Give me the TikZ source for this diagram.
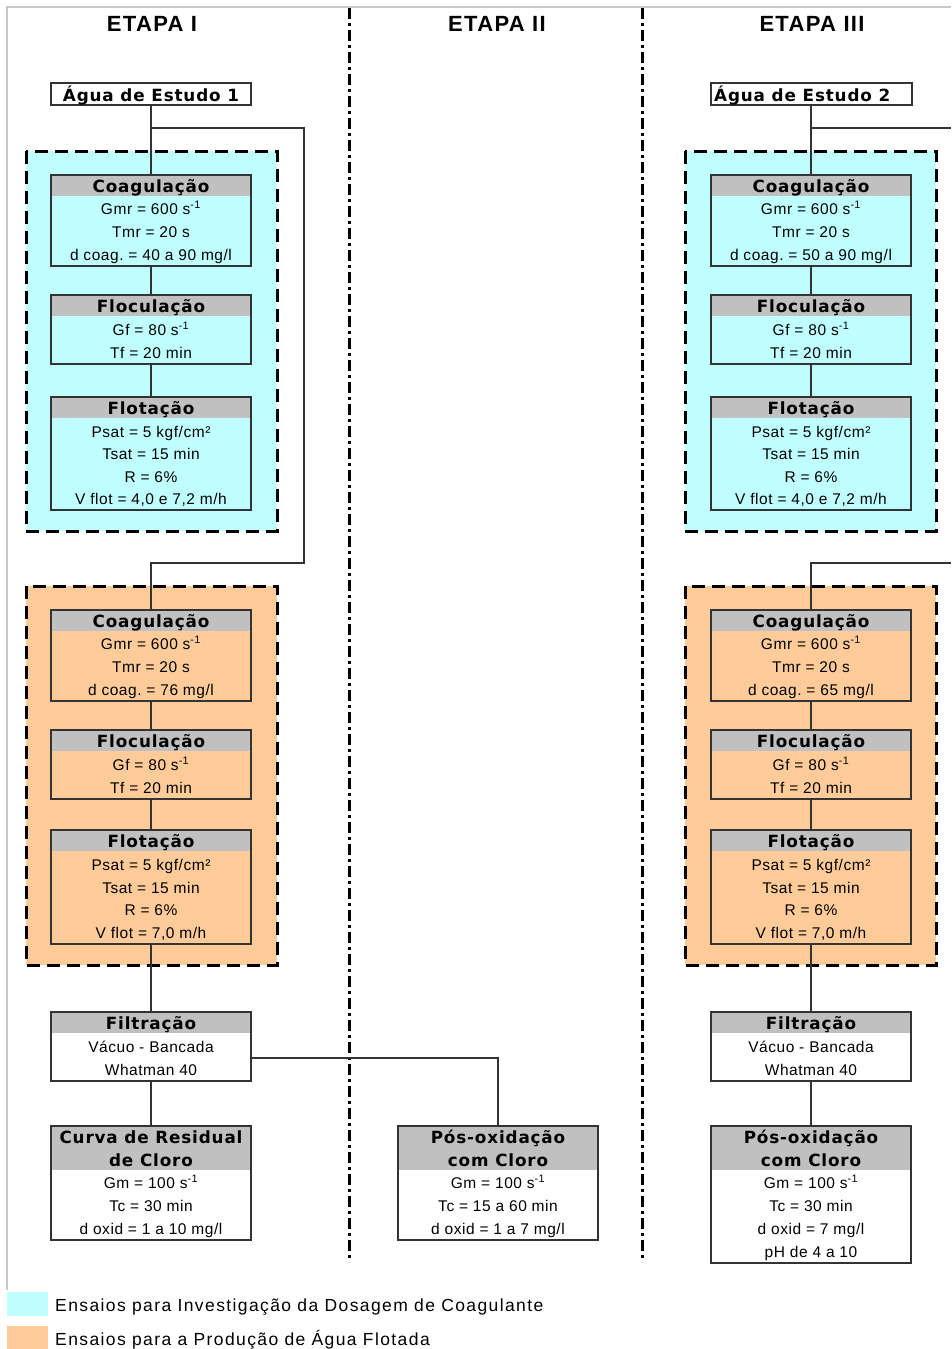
\documentclass[tikz,border=0pt]{standalone}
\usepackage{fontspec}
\setmainfont{Liberation Sans}
\newfontfamily\hdrfont[LetterSpace=5]{DejaVu Sans}
\newfontfamily\bodyfont[LetterSpace=3.5]{Liberation Sans}
\newfontfamily\legfont[LetterSpace=8]{Liberation Sans}
\newfontfamily\etfont[LetterSpace=6]{Liberation Sans}
\definecolor{cyanc}{HTML}{C0FFFF}
\definecolor{orangec}{HTML}{FFCC99}
\definecolor{hdrgray}{HTML}{C0C0C0}
\definecolor{linec}{HTML}{333333}
\definecolor{framec}{HTML}{C8C8C8}
\tikzset{
  pbox/.style={draw=linec, line width=1.5pt, rectangle, minimum width=200pt, inner sep=0pt},
  conn/.style={draw=linec, line width=1.5pt},
  group/.style={draw=black, line width=3pt, dash pattern=on 13pt off 7pt},
  sep/.style={draw=black, line width=3pt, dash pattern=on 11pt off 4pt on 3pt off 4pt},
  htxt/.style={font=\hdrfont\bfseries\fontsize{16.8}{22}\selectfont, inner sep=0pt, anchor=base, yshift=-7.5pt},
  btxt/.style={font=\bodyfont\fontsize{15.5}{19}\selectfont, inner sep=0pt, anchor=base, yshift=-6pt},
  ltxt/.style={font=\legfont\fontsize{17.5}{21}\selectfont, inner sep=0pt, anchor=base west, yshift=-6pt},
  ettxt/.style={font=\etfont\bfseries\fontsize{22}{26}\selectfont, inner sep=0pt, anchor=base},
}
% #1 name, #2 x center, #3 top y, #4 height, #5 header height, #6 fill
\newcommand\procbox[6]{%
  \fill[#6] (#2-100,-#3) rectangle (#2+100,-#3-#4);
  \fill[hdrgray] (#2-100,-#3) rectangle (#2+100,-#3-#5);
  \node[pbox, minimum height=#4pt, anchor=north] (#1) at (#2,-#3) {};
}
\begin{document}
\frenchspacing
\begin{tikzpicture}[x=1pt,y=1pt]
\useasboundingbox (0,0) rectangle (951,-1349);
\fill[white] (0,0) rectangle (951,-1349);
% frame
\draw[framec, line width=1.2pt] (7,-1290) -- (7,-7) -- (951,-7);
% separators
\draw[sep] (349,-8) -- (349,-1262);
\draw[sep] (642,-8) -- (642,-1262);
% titles
\node[ettxt] (et1) at (152,-31.5) {ETAPA I};
\node[ettxt] (et2) at (497,-31.5) {ETAPA II};
\node[ettxt] (et3) at (812,-31.5) {ETAPA III};
% groups
\path[group, fill=cyanc] (26,-151) rectangle (277,-531);
\path[group, fill=orangec] (26,-586) rectangle (277,-965);
\path[group, fill=cyanc] (685,-151) rectangle (936,-531);
\path[group, fill=orangec] (685,-586) rectangle (936,-965);

% ---------------- Column I ----------------
\node[pbox, minimum height=22pt, fill=white] (a1) at (151,-94) {};
\node[htxt] (a1t) at (151,-94) {Água de Estudo 1};

\coordinate (b1) at (151,-128);
\coordinate (b1r) at (304,-128);
\coordinate (b1d) at (304,-563);
\coordinate (b1l) at (151,-563);

% connectors first (boxes drawn over)
\draw[conn] (151,-105) -- (151,-174);
\draw[conn] (b1) -- (b1r) -- (b1d) -- (b1l) -- (151,-609);
\draw[conn] (151,-265) -- (151,-294);
\draw[conn] (151,-363) -- (151,-396);
\draw[conn] (151,-700) -- (151,-729);
\draw[conn] (151,-798) -- (151,-829);
\draw[conn] (151,-943) -- (151,-1011);
\draw[conn] (151,-1080) -- (151,-1125);

\procbox{c1}{151}{174}{91}{22}{cyanc}
\node[htxt] (c1h) at (151,-185) {Coagulação};
\node[btxt] (c1a) at (151,-208) {Gmr = 600 s\textsuperscript{-1}};
\node[btxt] (c1b) at (151,-231) {Tmr = 20 s};
\node[btxt] (c1c) at (151,-254) {d coag. = 40 a 90 mg/l};

\procbox{f1}{151}{294}{69}{22}{cyanc}
\node[htxt] (f1h) at (151,-305) {Floculação};
\node[btxt] (f1a) at (151,-329) {Gf = 80 s\textsuperscript{-1}};
\node[btxt] (f1b) at (151,-352) {Tf = 20 min};

\procbox{t1}{151}{396}{113}{22}{cyanc}
\node[htxt] (t1h) at (151,-407) {Flotação};
\node[btxt] (t1a) at (151,-431) {Psat = 5 kgf/cm²};
\node[btxt] (t1b) at (151,-453) {Tsat = 15 min};
\node[btxt] (t1c) at (151,-476) {R = 6\%};
\node[btxt] (t1d) at (151,-498) {V flot = 4,0 e 7,2 m/h};

\procbox{oc1}{151}{609}{91}{22}{orangec}
\node[htxt] (oc1h) at (151,-620) {Coagulação};
\node[btxt] (oc1a) at (151,-643) {Gmr = 600 s\textsuperscript{-1}};
\node[btxt] (oc1b) at (151,-666) {Tmr = 20 s};
\node[btxt] (oc1c) at (151,-689) {d coag. = 76 mg/l};

\procbox{of1}{151}{729}{69}{22}{orangec}
\node[htxt] (of1h) at (151,-740) {Floculação};
\node[btxt] (of1a) at (151,-764) {Gf = 80 s\textsuperscript{-1}};
\node[btxt] (of1b) at (151,-787) {Tf = 20 min};

\procbox{ot1}{151}{829}{114}{22}{orangec}
\node[htxt] (ot1h) at (151,-840) {Flotação};
\node[btxt] (ot1a) at (151,-864) {Psat = 5 kgf/cm²};
\node[btxt] (ot1b) at (151,-887) {Tsat = 15 min};
\node[btxt] (ot1c) at (151,-909) {R = 6\%};
\node[btxt] (ot1d) at (151,-932) {V flot = 7,0 m/h};

\procbox{fi1}{151}{1011}{69}{22}{white}
\node[htxt] (fi1h) at (151,-1022) {Filtração};
\node[btxt] (fi1a) at (151,-1046) {Vácuo - Bancada};
\node[btxt] (fi1b) at (151,-1069) {Whatman 40};

\procbox{cr1}{151}{1125}{114}{45}{white}
\node[htxt] (cr1h) at (151,-1136) {Curva de Residual};
\node[htxt] (cr1i) at (151,-1159) {de Cloro};
\node[btxt] (cr1a) at (151,-1182) {Gm = 100 s\textsuperscript{-1}};
\node[btxt] (cr1b) at (151,-1205) {Tc = 30 min};
\node[btxt] (cr1c) at (151,-1228) {d oxid = 1 a 10 mg/l};

% ---------------- Column II ----------------
\procbox{p2}{498}{1125}{114}{45}{white}
\node[htxt] (p2h) at (498,-1136) {Pós-oxidação};
\node[htxt] (p2i) at (498,-1159) {com Cloro};
\node[btxt] (p2a) at (498,-1182) {Gm = 100 s\textsuperscript{-1}};
\node[btxt] (p2b) at (498,-1205) {Tc = 15 a 60 min};
\node[btxt] (p2c) at (498,-1228) {d oxid = 1 a 7 mg/l};
\draw[conn] ([yshift=-11.5pt]fi1.east) -| (p2.north);

% ---------------- Column III ----------------
\coordinate (b3) at (811,-128);
\coordinate (b3r) at (951,-128);
\coordinate (b3r2) at (951,-563);
\coordinate (b3l) at (811,-563);
\draw[conn] (811,-105) -- (811,-174);
\draw[conn] (b3) -- (b3r);
\draw[conn] (b3r2) -- (b3l) -- (811,-609);
\draw[conn] (811,-265) -- (811,-294);
\draw[conn] (811,-363) -- (811,-396);
\draw[conn] (811,-700) -- (811,-729);
\draw[conn] (811,-798) -- (811,-829);
\draw[conn] (811,-943) -- (811,-1011);
\draw[conn] (811,-1080) -- (811,-1125);

\node[pbox, minimum height=22pt, minimum width=201pt, fill=white] (a3) at (811.5,-94) {};
\node[htxt, anchor=base west] (a3t) at (714,-94) {Água de Estudo 2};

\procbox{c3}{811}{174}{91}{22}{cyanc}
\node[htxt] (c3h) at (811,-185) {Coagulação};
\node[btxt] (c3a) at (811,-208) {Gmr = 600 s\textsuperscript{-1}};
\node[btxt] (c3b) at (811,-231) {Tmr = 20 s};
\node[btxt] (c3c) at (811,-254) {d coag. = 50 a 90 mg/l};

\procbox{f3}{811}{294}{69}{22}{cyanc}
\node[htxt] (f3h) at (811,-305) {Floculação};
\node[btxt] (f3a) at (811,-329) {Gf = 80 s\textsuperscript{-1}};
\node[btxt] (f3b) at (811,-352) {Tf = 20 min};

\procbox{t3}{811}{396}{113}{22}{cyanc}
\node[htxt] (t3h) at (811,-407) {Flotação};
\node[btxt] (t3a) at (811,-431) {Psat = 5 kgf/cm²};
\node[btxt] (t3b) at (811,-453) {Tsat = 15 min};
\node[btxt] (t3c) at (811,-476) {R = 6\%};
\node[btxt] (t3d) at (811,-498) {V flot = 4,0 e 7,2 m/h};

\procbox{oc3}{811}{609}{91}{22}{orangec}
\node[htxt] (oc3h) at (811,-620) {Coagulação};
\node[btxt] (oc3a) at (811,-643) {Gmr = 600 s\textsuperscript{-1}};
\node[btxt] (oc3b) at (811,-666) {Tmr = 20 s};
\node[btxt] (oc3c) at (811,-689) {d coag. = 65 mg/l};

\procbox{of3}{811}{729}{69}{22}{orangec}
\node[htxt] (of3h) at (811,-740) {Floculação};
\node[btxt] (of3a) at (811,-764) {Gf = 80 s\textsuperscript{-1}};
\node[btxt] (of3b) at (811,-787) {Tf = 20 min};

\procbox{ot3}{811}{829}{114}{22}{orangec}
\node[htxt] (ot3h) at (811,-840) {Flotação};
\node[btxt] (ot3a) at (811,-864) {Psat = 5 kgf/cm²};
\node[btxt] (ot3b) at (811,-887) {Tsat = 15 min};
\node[btxt] (ot3c) at (811,-909) {R = 6\%};
\node[btxt] (ot3d) at (811,-932) {V flot = 7,0 m/h};

\procbox{fi3}{811}{1011}{69}{22}{white}
\node[htxt] (fi3h) at (811,-1022) {Filtração};
\node[btxt] (fi3a) at (811,-1046) {Vácuo - Bancada};
\node[btxt] (fi3b) at (811,-1069) {Whatman 40};

\procbox{p3}{811}{1125}{137}{45}{white}
\node[htxt] (p3h) at (811,-1136) {Pós-oxidação};
\node[htxt] (p3i) at (811,-1159) {com Cloro};
\node[btxt] (p3a) at (811,-1182) {Gm = 100 s\textsuperscript{-1}};
\node[btxt] (p3b) at (811,-1205) {Tc = 30 min};
\node[btxt] (p3c) at (811,-1228) {d oxid = 7 mg/l};
\node[btxt] (p3d) at (811,-1251) {pH de 4 a 10};

% ---------------- Legend ----------------
\fill[cyanc] (7,-1292) rectangle (48,-1316);
\node[ltxt] (l1) at (55,-1305) {Ensaios para Investigação da Dosagem de Coagulante};
\fill[orangec] (7,-1326) rectangle (48,-1349);
\node[ltxt] (l2) at (55,-1339) {Ensaios para a Produção de Água Flotada};
\end{tikzpicture}
\end{document}
